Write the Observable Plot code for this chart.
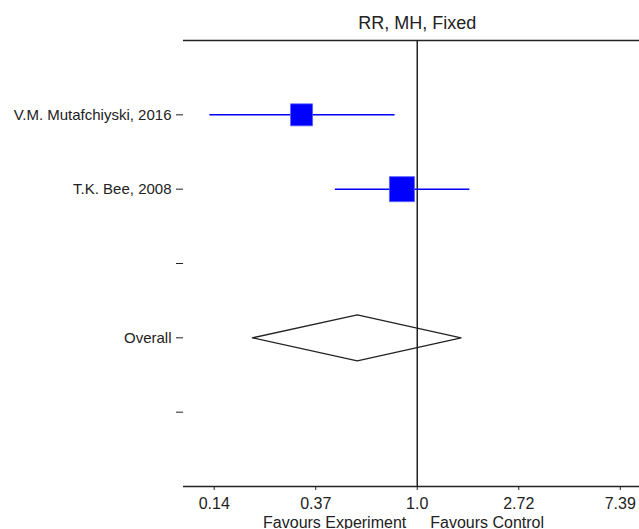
<!DOCTYPE html>
<html>
<head>
<meta charset="utf-8">
<script src="https://cdn.jsdelivr.net/npm/d3@7"></script>
<script src="https://cdn.jsdelivr.net/npm/@observablehq/plot@0.6"></script>
<style>
  html, body { margin: 0; padding: 0; background: #fff; }
</style>
</head>
<body>
<div id="chart"></div>
<script>
// ---- data ----
const title = "RR, MH, Fixed";
const studies = ["V.M. Mutafchiyski, 2016", "T.K. Bee, 2008"];
const studyRows = [1, 2];
const estimates = [0.32, 0.86];
const lowers = [0.129, 0.444];
const uppers = [0.80, 1.67];
const weights = [43.6, 56.4];
const rowLabels = ["V.M. Mutafchiyski, 2016", "T.K. Bee, 2008", "", "Overall", ""];
const rowPositions = [1, 2, 3, 4, 5];
const overallRow = 4;
const overallEst = 0.554;
const overallLower = 0.197;
const overallUpper = 1.54;
const tickLabels = ["0.14", "0.37", "1.0", "2.72", "7.39"];
const tickExponents = [-2, -1, 0, 1, 2];
const favourLeft = "Favours Experiment";
const favourRight = "Favours Control";

// ---- build tables ----
const studyData = studies.map((s, i) => ({
  study: s, row: studyRows[i], est: estimates[i], lo: lowers[i], hi: uppers[i], w: weights[i]
}));
const H = 529, mTop = 40, mBottom = 43;
const rowPx = (H - mTop - mBottom) / 6;
const dh = 23 / rowPx;
const diamond = [
  {x: overallLower, y: overallRow},
  {x: overallEst, y: overallRow - dh},
  {x: overallUpper, y: overallRow},
  {x: overallEst, y: overallRow + dh}
];
const tickData = tickExponents.map((e, i) => ({v: Math.exp(e), label: tickLabels[i]}));

const chart = Plot.plot({
  width: 639,
  height: H,
  marginTop: mTop,
  marginBottom: mBottom,
  marginLeft: 183,
  marginRight: 0,
  style: {fontFamily: "Liberation Sans, Arial, sans-serif", fontSize: "15px", color: "#222", background: "#fff", overflow: "visible"},
  x: {type: "log", domain: [0.1, 8.93]},
  y: {domain: [0, 6], reverse: true},
  r: {type: "sqrt", domain: [0, 56.4], range: [0, 25 / Math.sqrt(Math.PI)]},
  marks: [
    Plot.ruleY([0, 6], {stroke: "#222", strokeWidth: 1.5}),
    Plot.ruleX([1], {y1: 0, y2: 6, stroke: "#222", strokeWidth: 1.5}),
    Plot.link(studyData, {x1: "lo", x2: "hi", y1: "row", y2: "row", stroke: "#0000ff", strokeWidth: 1.5}),
    Plot.dot(studyData, {x: "est", y: "row", r: "w", symbol: "square", fill: "#0000ff", stroke: "#5a5aff", strokeWidth: 0.8}),
    Plot.line(diamond, {x: "x", y: "y", curve: "linear-closed", stroke: "#222", strokeWidth: 1.3, fill: "none"}),
    Plot.axisX({ticks: tickData.map(d => d.v), tickSize: 4, tickFormat: () => "", label: null}),
    Plot.text(tickData, {x: "v", frameAnchor: "bottom", dy: 22, text: "label", fontSize: 16, fill: "#222"}),
    Plot.axisY({ticks: rowPositions, tickSize: 7, tickPadding: 5, fontSize: 15, label: null,
      tickFormat: d => rowLabels[rowPositions.indexOf(d)]}),
    Plot.text([title], {x: 1, frameAnchor: "top", dy: -24, text: d => d, fontSize: 18, fill: "#222"}),
    Plot.text([favourLeft], {x: 1, frameAnchor: "bottom", dy: 41, dx: -11, textAnchor: "end", text: d => d, fontSize: 16, fill: "#222"}),
    Plot.text([favourRight], {x: 1, frameAnchor: "bottom", dy: 41, dx: 13, textAnchor: "start", text: d => d, fontSize: 16, fill: "#222"})
  ]
});
document.getElementById("chart").appendChild(chart);
</script>
</body>
</html>
